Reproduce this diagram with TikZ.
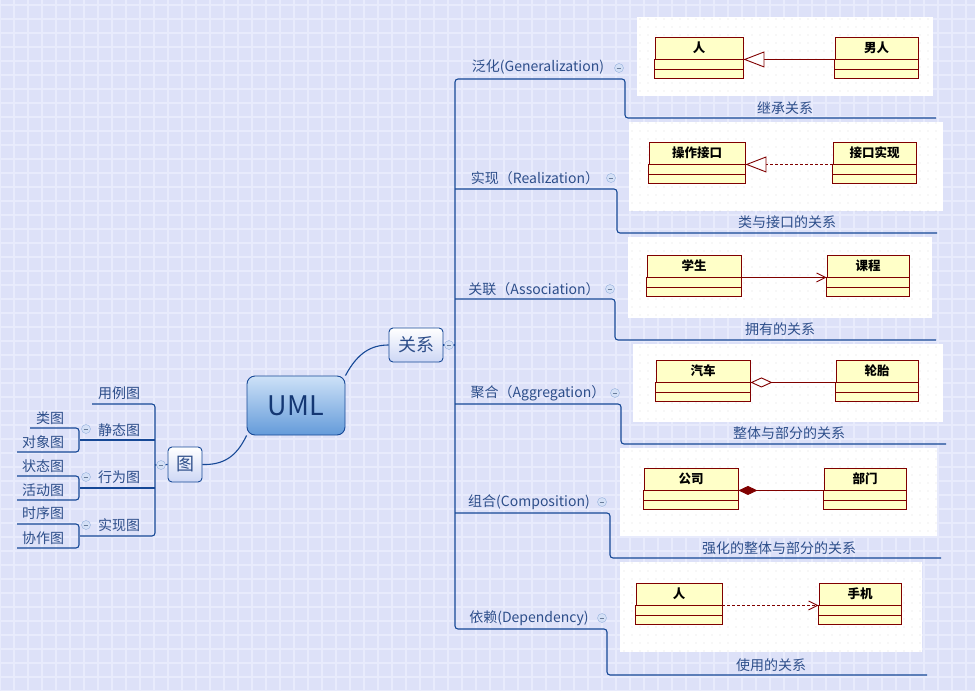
\documentclass[tikz,border=0pt]{standalone}
\usepackage{fontspec}
\setmainfont{Noto Sans CJK SC}
\usetikzlibrary{arrows.meta,patterns.meta}
\definecolor{bgblue}{RGB}{221,225,248}
\definecolor{bglight}{RGB}{232,235,252}
\definecolor{treeline}{RGB}{22,72,150}
\definecolor{treetext}{RGB}{45,78,138}
\definecolor{umltext}{RGB}{20,55,115}
\definecolor{umltop}{RGB}{205,225,247}
\definecolor{umlbottom}{RGB}{100,155,218}
\definecolor{topicbottom}{RGB}{205,215,245}
\definecolor{umlred}{RGB}{128,0,0}
\definecolor{umlyellow}{RGB}{255,255,200}
\definecolor{colfill}{RGB}{212,224,246}
\definecolor{coledge}{RGB}{150,178,222}
\tikzset{
  branch/.style={treeline, line width=1.1pt},
  lbl/.style={text=treetext, font=\fontsize{14}{16}\selectfont, inner sep=0},
  central/.style={draw=treeline, line width=0.9pt, rounded corners=8pt, top color=umltop, bottom color=umlbottom, text=umltext, minimum width=98pt, minimum height=59pt, font=\fontsize{27}{30}\selectfont},
  topic/.style={draw=treeline, line width=0.9pt, rounded corners=4pt, top color=white, bottom color=topicbottom, text=treetext, inner sep=0, font=\fontsize{18}{20}\selectfont},
  collapse/.style={circle, draw=coledge, fill=colfill, minimum size=9pt, inner sep=0, path picture={\draw[coledge!70!black, line width=0.7pt] ([xshift=-2.3pt]path picture bounding box.center) -- ([xshift=2.3pt]path picture bounding box.center);}},
  panel/.style={fill=white, postaction={pattern={Dots[distance=8pt,radius=0.45pt]}, pattern color=black!35}},
  clsname/.style={draw=umlred, fill=umlyellow, line width=0.9pt, minimum width=#1, minimum height=22pt, inner sep=0, font=\fontsize{12.5}{14}\selectfont\bfseries},
  clsbody/.style={draw=umlred, fill=umlyellow, line width=0.9pt},
  umlline/.style={umlred, line width=0.9pt}
}
\begin{document}
\begin{tikzpicture}[x=1pt,y=-1pt]
\useasboundingbox (0,0) rectangle (975,691);
% background
\fill[bgblue] (0,0) rectangle (975,691);
\fill[pattern={Lines[angle=0,distance=14pt,line width=2.5pt]}, pattern color=bglight] (0,0) rectangle (975,691);
\fill[pattern={Lines[angle=90,distance=14pt,line width=2.5pt]}, pattern color=bglight] (0,0) rectangle (975,691);

% topics
\node[central] (uml) at (296,405.5) {UML};
\node[topic, minimum width=54pt, minimum height=34pt] (rel) at (416,345) {关系};
\node[topic, minimum width=34pt, minimum height=35pt] (tu) at (185,464.5) {图};
\draw[branch] (uml.north east) .. controls (358,352) and (372,345) .. (rel.west);
\draw[branch] (uml.south west) .. controls (236,458) and (222,465) .. (tu.east);

% left side: diagrams
\node[lbl] (yongli) at (119,393) {用例图};
\node[lbl] (jingtai) at (119,430) {静态图};
\node[lbl] (xingwei) at (119,477) {行为图};
\node[lbl] (shixian) at (119,525) {实现图};
\node[lbl] (lei) at (50,418) {类图};
\node[lbl] (duixiang) at (43,442) {对象图};
\node[lbl] (zhuangtai) at (43,466) {状态图};
\node[lbl] (huodong) at (43,490) {活动图};
\node[lbl] (shixu) at (43,513) {时序图};
\node[lbl] (xiezuo) at (43,538) {协作图};
\draw[branch, rounded corners=3pt] (92,404) -- (155,404) -- (155,536) -- (80,536);
\draw[branch] (80,440) -- (155,440);
\draw[branch] (80,488) -- (155,488);
\draw[branch, rounded corners=3pt] (30,428) -- (79,428) -- (79,452) -- (17,452);
\draw[branch, rounded corners=3pt] (17,476) -- (79,476) -- (79,500) -- (17,500);
\draw[branch, rounded corners=3pt] (17,524) -- (79,524) -- (79,548) -- (17,548);
\draw[branch] (tu.west) -- (155,465);
\node[collapse] (tucol) at (161,465) {};
\node[collapse] (jtcol) at (86,429) {};
\node[collapse] (xwcol) at (86,477) {};
\node[collapse] (sxcol) at (86,525) {};

% right side: relations
\draw[branch, rounded corners=3pt] (936,118) -- (625,118) -- (625,79) -- (455,79) -- (455,629) -- (607,629) -- (607,675) -- (927,675);
\draw[branch, rounded corners=3pt] (455,189) -- (617,189) -- (617,233) -- (937,233);
\draw[branch, rounded corners=3pt] (455,299) -- (615,299) -- (615,340) -- (936,340);
\draw[branch, rounded corners=3pt] (455,404) -- (621,404) -- (621,444) -- (946,444);
\draw[branch, rounded corners=3pt] (455,513) -- (610,513) -- (610,558) -- (941,558);
\draw[branch] (rel.east) -- (455,345);
\node[collapse] (relcol) at (449,345) {};

\node[lbl] (gen) at (538,67) {泛化(Generalization)};
\node[lbl] (real) at (535,178) {实现（Realization）};
\node[lbl] (assoc) at (534,289) {关联（Association）};
\node[lbl] (aggr) at (538,393) {聚合（Aggregation）};
\node[lbl] (comp) at (529,502) {组合(Composition)};
\node[lbl] (dep) at (529,618) {依赖(Dependency)};
\node[collapse] (gencol) at (619,68) {};
\node[collapse] (realcol) at (611,178) {};
\node[collapse] (assoccol) at (610,289) {};
\node[collapse] (aggrcol) at (615,393) {};
\node[collapse] (compcol) at (602,502) {};
\node[collapse] (depcol) at (602,618) {};

\node[lbl] (gencap) at (785,108) {继承关系};
\node[lbl] (realcap) at (787,222) {类与接口的关系};
\node[lbl] (assoccap) at (780,329) {拥有的关系};
\node[lbl] (aggrcap) at (789,433) {整体与部分的关系};
\node[lbl] (compcap) at (779,548) {强化的整体与部分的关系};
\node[lbl] (depcap) at (771,665) {使用的关系};

% class diagram panels
\path[panel] (637,17) rectangle (933,96);
\path[panel] (629,122) rectangle (943,211);
\path[panel] (628,237) rectangle (932,318);
\path[panel] (633,344) rectangle (943,422);
\path[panel] (620,448) rectangle (937,536);
\path[panel] (620,562) rectangle (922,652);

\node[clsname=88pt] (ren) at (699,48) {人};
\node[clsname=83pt] (nanren) at (876.5,48) {男人};
\node[clsname=96pt] (caozuo) at (697,153) {操作接口};
\node[clsname=83pt] (jieshi) at (874.5,153) {接口实现};
\node[clsname=94pt] (xuesheng) at (694,266) {学生};
\node[clsname=82pt] (kecheng) at (868,266) {课程};
\node[clsname=94pt] (qiche) at (703,371) {汽车};
\node[clsname=82pt] (luntai) at (877,371) {轮胎};
\node[clsname=94pt] (gongsi) at (691,479) {公司};
\node[clsname=82pt] (bumen) at (865,479) {部门};
\node[clsname=86pt] (yonghu) at (679,594) {人};
\node[clsname=82pt] (shouji) at (860,594) {手机};
\foreach \c in {ren,nanren,caozuo,jieshi,xuesheng,kecheng,qiche,luntai,gongsi,bumen,yonghu,shouji}{
  \draw[clsbody] (\c.south west) rectangle ([yshift=-19pt]\c.south east);
  \draw[umlline] ([yshift=-9.5pt]\c.south west) -- ([yshift=-9.5pt]\c.south east);
}

\draw[umlline, -{Triangle[open, length=21pt, width=16pt, fill=white]}] (nanren.south west) -- (ren.south east);
\draw[umlline, dash pattern=on 3pt off 2pt, -{Triangle[open, length=21pt, width=16pt, fill=white]}] (jieshi.south west) -- (caozuo.south east);
\draw[umlline, -{Straight Barb[length=9pt, width=9pt]}] (xuesheng.south east) -- (kecheng.south west);
\draw[umlline, {Diamond[open, length=22pt, width=10pt, fill=white]}-] (qiche.south east) -- (luntai.south west);
\draw[umlline, {Diamond[length=19pt, width=9pt]}-] (gongsi.south east) -- (bumen.south west);
\draw[umlline, dash pattern=on 3pt off 2pt, -{Straight Barb[length=9pt, width=9pt]}] (yonghu.south east) -- (shouji.south west);
\end{tikzpicture}
\end{document}
